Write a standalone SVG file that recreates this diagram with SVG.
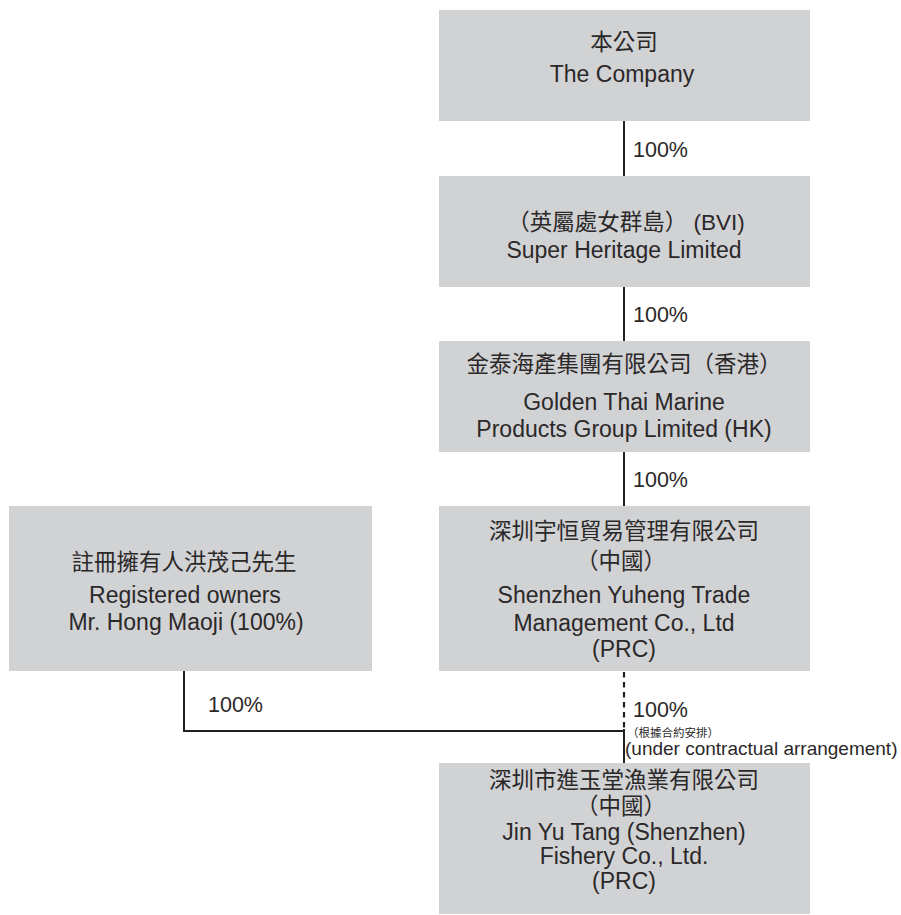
<svg xmlns="http://www.w3.org/2000/svg" width="901" height="915" viewBox="0 0 901 915">
<style>
.box{fill:#d1d2d4;}
.t{font-family:"Liberation Sans","Noto Sans CJK TC",sans-serif;font-size:23px;fill:#2b2829;text-anchor:middle;}
.c{font-family:"Liberation Sans","Noto Sans CJK TC",sans-serif;font-size:22.5px;fill:#2b2829;text-anchor:middle;}
.lbl{font-family:"Liberation Sans","Noto Sans CJK TC",sans-serif;font-size:21.5px;fill:#2b2829;}
.small{font-family:"Liberation Sans","Noto Sans CJK TC",sans-serif;font-size:11.5px;fill:#2b2829;}
.note{font-family:"Liberation Sans","Noto Sans CJK TC",sans-serif;font-size:19px;fill:#2b2829;}
.ln{stroke:#231f20;stroke-width:2;fill:none;}
.dash{stroke:#231f20;stroke-width:2.2;fill:none;stroke-dasharray:5.5 4.5;}
</style>
<rect width="901" height="915" fill="#ffffff"/>
<g id="connectors">
<line class="ln" x1="624" y1="121" x2="624" y2="176"/>
<line class="ln" x1="624" y1="287" x2="624" y2="341"/>
<line class="ln" x1="624" y1="452" x2="624" y2="506"/>
<line class="dash" x1="624" y1="672" x2="624" y2="729"/>
<line class="ln" x1="624" y1="729" x2="624" y2="763"/>
<polyline class="ln" points="184,671 184,731 624,731"/>
<text class="lbl" x="633" y="157">100%</text>
<text class="lbl" x="633" y="322">100%</text>
<text class="lbl" x="633" y="487">100%</text>
<text class="lbl" x="208" y="712">100%</text>
<text class="lbl" x="633" y="717">100%</text>
<text class="small" x="627" y="737">（根據合約安排）</text>
<text class="note" x="625" y="755">(under contractual arrangement)</text>
</g>
<g id="company">
<rect class="box" x="439" y="10" width="371" height="111"/>
<text class="c" x="624" y="50">本公司</text>
<text class="t" x="622" y="82">The Company</text>
</g>
<g id="super-heritage">
<rect class="box" x="439" y="176" width="371" height="111"/>
<text class="c" x="626" y="230">（英屬處女群島） (BVI)</text>
<text class="t" x="624" y="258">Super Heritage Limited</text>
</g>
<g id="golden-thai">
<rect class="box" x="439" y="341" width="371" height="111"/>
<text class="c" x="624" y="372">金泰海產集團有限公司（香港）</text>
<text class="t" x="624" y="410">Golden Thai Marine</text>
<text class="t" x="624" y="437">Products Group Limited (HK)</text>
</g>
<g id="yuheng">
<rect class="box" x="439" y="506" width="371" height="165"/>
<text class="c" x="624" y="539">深圳宇恒貿易管理有限公司</text>
<text class="c" x="621" y="569">（中國）</text>
<text class="t" x="624" y="603">Shenzhen Yuheng Trade</text>
<text class="t" x="624" y="631">Management Co., Ltd</text>
<text class="t" x="624" y="657">(PRC)</text>
</g>
<g id="owners">
<rect class="box" x="9" y="506" width="363" height="165"/>
<text class="c" x="184" y="570">註冊擁有人洪茂己先生</text>
<text class="t" x="185" y="603">Registered owners</text>
<text class="t" x="186" y="630">Mr. Hong Maoji (100%)</text>
</g>
<g id="jinyutang">
<rect class="box" x="439" y="763" width="371" height="151"/>
<text class="c" x="624" y="788">深圳市進玉堂漁業有限公司</text>
<text class="c" x="621" y="814">（中國）</text>
<text class="t" x="624" y="840">Jin Yu Tang (Shenzhen)</text>
<text class="t" x="624" y="864">Fishery Co., Ltd.</text>
<text class="t" x="624" y="889">(PRC)</text>
</g>
</svg>
